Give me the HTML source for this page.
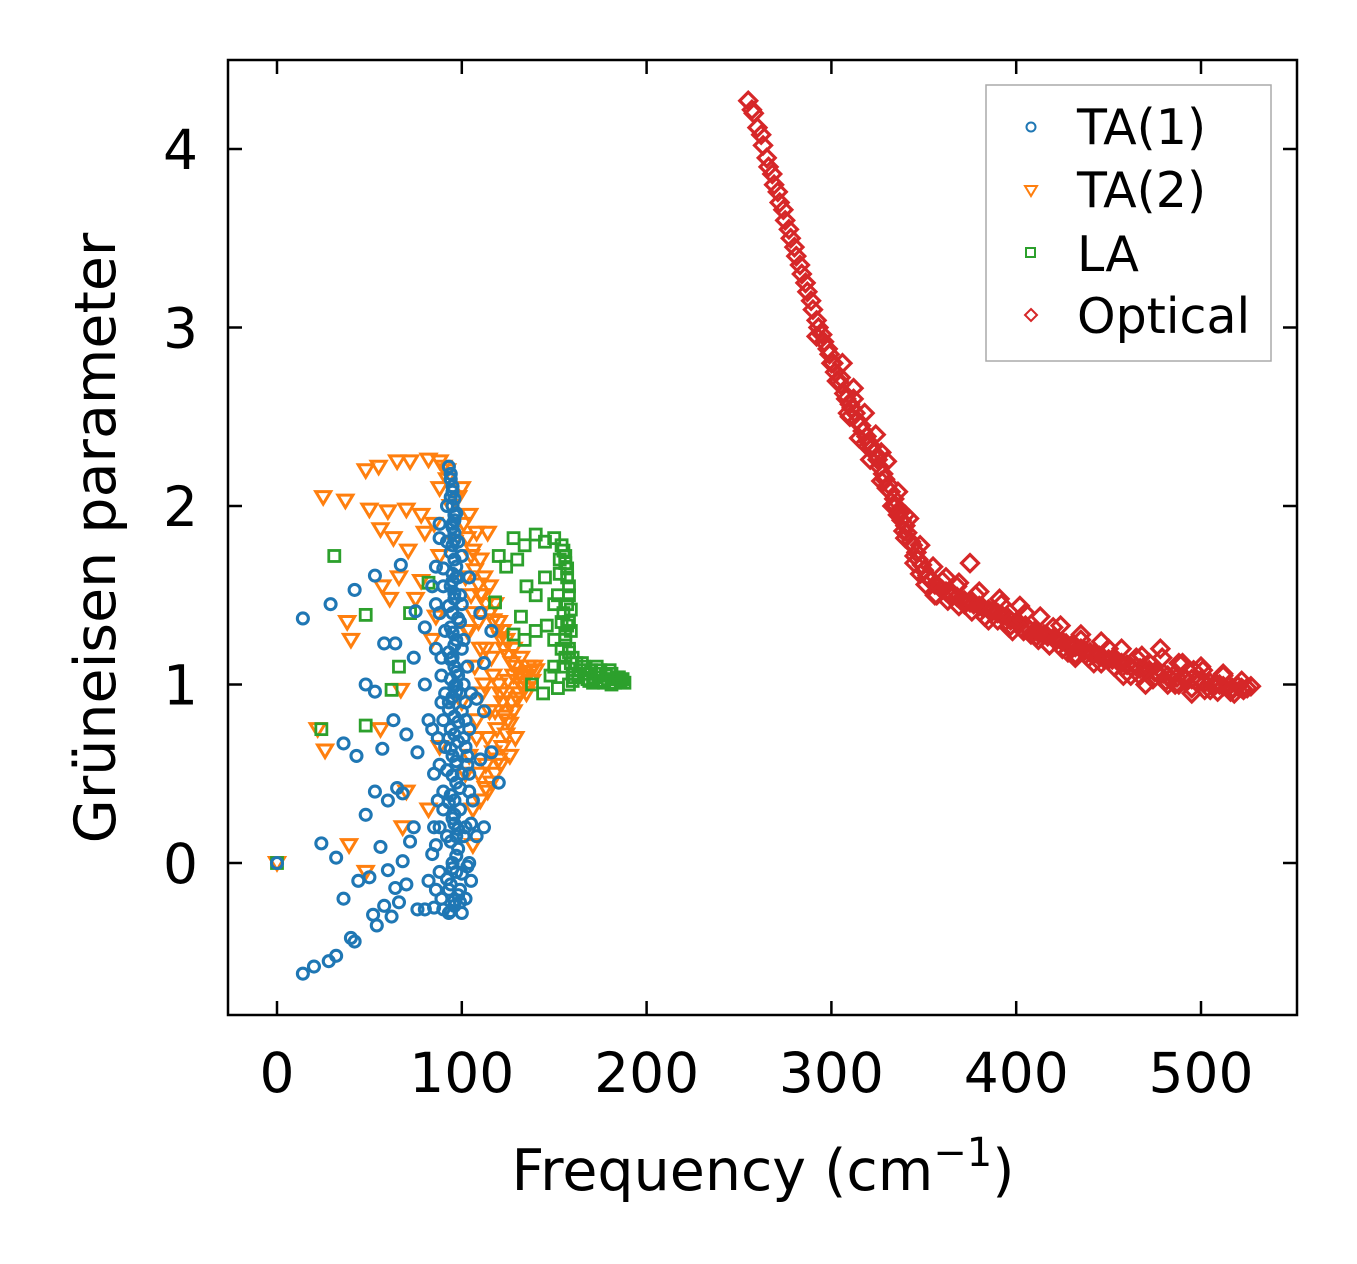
<!DOCTYPE html>
<html><head><meta charset="utf-8">
<style>
html,body{margin:0;padding:0;background:#fff;}
svg{display:block;font-family:"DejaVu Sans","Liberation Sans",sans-serif;}
</style></head>
<body>
<svg id="chart" width="1357" height="1264" viewBox="0 0 1357 1264" xmlns="http://www.w3.org/2000/svg">
<g id="marks"></g>
<rect x="228" y="60" width="1069" height="955" fill="none" stroke="#000" stroke-width="2.5"/>
<g id="ticks"></g>
<text x="763" y="1190" font-size="57" text-anchor="middle">Frequency (cm<tspan dy="-24" font-size="40">−1</tspan><tspan dy="24">)</tspan></text>
<text transform="translate(115,538) rotate(-90)" font-size="57" text-anchor="middle">Grüneisen parameter</text>
<g>
<rect x="986" y="85" width="285" height="276" fill="#fff" stroke="#aaa" stroke-width="1.5"/>
<circle cx="1031" cy="127" r="4.5" fill="none" stroke="#1f77b4" stroke-width="2"/>
<text x="1077" y="144" font-size="49">TA(1)</text>
<path d="M1025,186 L1037,186 L1031,196 Z" fill="none" stroke="#ff7f0e" stroke-width="2"/>
<text x="1077" y="207" font-size="49">TA(2)</text>
<rect x="1026" y="248" width="9" height="9" fill="none" stroke="#2ca02c" stroke-width="2"/>
<text x="1077" y="271" font-size="49">LA</text>
<path d="M1031,309 L1037,315 L1031,321 L1025,315 Z" fill="none" stroke="#d62728" stroke-width="2"/>
<text x="1077" y="333" font-size="49">Optical</text>
</g>
</svg>
<script>
const xTicks=[0,100,200,300,400,500];
const yTicks=[0,1,2,3,4];
const ta1X=[0,14,20,28,32,24,32,36,40,42,44,50,52,54,56,58,60,62,64,66,68,70,36,43,48,53,57,60,63,65,68,70,72,74,76,48,53,58,64,14,29,42,53,67,75,74,80,82,80,84,86,88,120,112,108,105,110,116,112,108,112,116,110,104,100,
93,94,95,95,96,96,95,96,95,94,96,95,94,97,93,96,94,97,93,96,94,98,95,92,97,94,99,96,92,98,95,100,94,98,96,100,90,85,80,76,88,86,90,88,90,89,91,90,92,92,
98,99,100,101,102,103,104,102,104,102,100,101,99,98,97,93,91,89,87,85,84,82,86,88,94,96,97,95,93,99,97,95,93,97,
94,95,96,97,95,96,94,97,95,96,93,98,95,96,94,97,96,95,93,98,96,94,97,95,99,93,96,98,94,97,95,92,99,96,94,98,95,97,93,96,
101,103,105,100,102,104,106,101,103,105,99,102,104,100,103,
88,90,86,89,91,87,85,90,88,86,89,84];
const ta1Y=[0,-0.62,-0.58,-0.55,-0.52,0.11,0.03,-0.2,-0.42,-0.44,-0.1,-0.08,-0.29,-0.35,0.09,-0.24,-0.04,-0.3,-0.14,-0.22,0.01,-0.12,0.67,0.6,0.27,0.4,0.64,0.35,0.8,0.42,0.39,0.72,0.12,0.2,0.62,1.0,0.96,1.23,1.23,1.37,1.45,1.53,1.61,1.67,1.41,1.15,1.0,0.8,1.32,1.55,1.66,1.82,0.45,0.2,0.15,0.22,0.58,0.62,0.85,0.92,1.12,1.3,1.4,1.6,1.72,
2.22,2.15,2.08,2.0,1.92,1.85,1.78,1.7,1.62,1.55,1.48,1.4,1.32,1.25,1.18,1.1,1.03,0.96,0.9,0.82,0.75,0.68,0.6,0.52,0.45,0.38,0.3,0.22,0.15,0.08,0.0,-0.06,-0.12,-0.18,-0.24,-0.28,-0.26,-0.25,-0.26,-0.26,-0.05,0.1,0.3,0.55,0.8,1.05,1.3,1.55,1.8,2.0,
1.8,1.5,1.2,1.0,0.8,0.6,0.4,0.2,0.0,-0.2,0.5,0.7,1.35,1.05,0.15,-0.28,0.65,0.9,0.35,0.2,0.75,-0.1,1.2,1.4,2.05,1.95,1.6,1.15,0.7,0.95,0.55,0.25,-0.15,-0.05,
2.18,2.11,2.04,1.96,1.88,1.81,1.74,1.66,1.58,1.51,1.44,1.37,1.29,1.22,1.14,1.07,0.99,0.93,0.86,0.79,0.72,0.64,0.57,0.49,0.42,0.34,0.27,0.19,0.12,0.04,-0.03,-0.09,-0.15,-0.21,-0.27,1.6,1.9,1.0,0.7,0.35,
1.25,1.1,0.95,0.85,0.65,0.5,0.35,0.15,-0.02,-0.1,-0.22,0.9,0.75,1.45,0.55,
1.9,1.65,1.45,1.15,0.95,0.7,0.5,0.4,0.2,-0.15,-0.2,0.05];
const ta2X=[0,25,37,48,55,65,72,82,88,92,50,60,70,78,85,56,63,71,80,88,57,61,66,75,40,38,26,22,56,67,70,68,39,48,82,88,84,78,86,
100,104,108,106,110,112,115,118,120,122,124,128,132,136,140,138,134,130,128,126,124,122,120,118,116,114,110,106,104,108,112,116,120,124,128,118,114,110,106,102,114,110,126,122,132,100,102,104,106,108,
101,103,105,107,109,111,113,115,117,119,121,123,125,127,129,131,133,135,137,139,103,107,111,115,119,123,127,131,135,105,109,113,117,121,125,129,113,117,121,125,109,113,
90,88,94,92,96,98];
const ta2Y=[0,2.05,2.03,2.2,2.22,2.25,2.25,2.26,2.25,2.2,1.98,1.97,1.98,1.95,1.9,1.87,1.82,1.75,1.85,1.72,1.55,1.48,1.6,1.48,1.25,1.35,0.63,0.75,0.75,0.97,0.4,0.2,0.1,-0.05,0.3,0.65,1.25,1.58,1.38,
2.1,1.95,1.85,1.75,1.7,1.6,1.55,1.45,1.35,1.3,1.25,1.2,1.15,1.1,1.08,1.02,0.98,0.92,0.85,0.78,0.72,0.65,0.58,0.5,0.45,0.4,0.35,0.3,0.6,0.8,1.0,1.15,1.0,0.95,1.05,0.85,0.7,1.2,1.4,1.6,1.85,1.5,0.6,0.9,1.0,0.9,0.5,1.3,0.1,0.7,
1.9,1.82,1.72,1.64,1.56,1.5,1.45,1.4,1.36,1.3,1.26,1.2,1.16,1.12,1.1,1.06,1.04,1.05,1.07,1.1,1.3,1.1,0.95,0.85,0.75,0.82,0.9,0.95,0.95,1.5,1.35,1.2,1.05,0.95,1.02,0.7,0.55,0.62,0.55,0.8,0.5,0.42,
2.22,2.1,2.0,2.15,1.8,2.05];
const laX=[0,24,31,48,48,62,66,72,82,118,120,124,128,130,134,140,145,150,135,140,145,150,132,128,134,140,146,150,138,144,148,152,
154,156,157,158,157,158,156,158,160,155,162,166,170,174,178,182,186,188,184,176,168,160,152,153,155,159,163,171,180,150,154,
155,156,157,158,159,157,156,158,159,160,161,164,167,169,172,175,177,179,181,183,185,187,153,154,156,158,165,173,181];
const laY=[0,0.75,1.72,1.39,0.77,0.97,1.1,1.4,1.57,1.46,1.72,1.66,1.82,1.7,1.78,1.84,1.8,1.82,1.55,1.5,1.6,1.45,1.38,1.28,1.25,1.3,1.33,1.25,1.0,0.95,1.05,0.98,
1.78,1.72,1.65,1.55,1.45,1.35,1.28,1.2,1.15,1.1,1.12,1.1,1.08,1.06,1.05,1.03,1.02,1.01,1.04,1.02,1.03,1.02,1.5,1.62,1.4,1.3,1.05,1.01,1.08,1.1,1.2,
1.75,1.68,1.6,1.5,1.42,1.33,1.25,1.18,1.12,1.06,1.04,1.08,1.06,1.02,1.04,1.08,1.01,1.03,1.06,1.01,1.04,1.03,1.7,1.35,1.15,1.0,1.12,1.1,1.0];
const optX=[255,258,260,263,266,269,272,275,278,281,284,287,290,293,296,299,302,305,308,311,314,317,320,323,326,329,332,335,338,341,344,347,350,354,358,362,366,370,375,380,385,390,395,400,405,410,415,420,425,430,435,440,445,450,455,460,465,470,475,480,485,490,495,500,505,510,515,520,525,527,
300,305,310,318,325,330,336,340,345,352,360,368,375,378,385,392,398,405,412,420,428,435,442,450,458,465,470,478,482,488,495,500,505,512,518,522,340,337,312,327,292,286,
348,356,364,372,383,396,408,418,432,446,462,472,486,496,508,
257,262,265,268,271,274,277,280,283,286,289,292,295,298,301,304,307,310,313,316,319,322,325,328,331,334,337,340,343,346,349,352,356,360,364,368,372,377,382,387,392,397,402,407,412,417,422,427,432,437,442,447,452,457,462,467,472,477,482,487,492,497,502,507,512,517,522,
303,309,315,321,327,333,339,345,351,357,363,369,376,383,390,397,404,411,418,425,432,439,446,453,460,467,474,481,488,495,502,509,516,523,
306,312,318,324,330,336,342,348,355,362,369,380,391,402,413,424,435,446,457,468,479,490,501,512];
const optY=[4.27,4.2,4.12,4.02,3.9,3.8,3.7,3.6,3.5,3.4,3.3,3.2,3.1,3.0,2.92,2.85,2.75,2.68,2.6,2.55,2.48,2.42,2.36,2.3,2.22,2.15,2.08,2.0,1.92,1.85,1.78,1.7,1.64,1.58,1.55,1.52,1.5,1.48,1.46,1.44,1.42,1.4,1.38,1.35,1.33,1.3,1.28,1.26,1.24,1.22,1.2,1.18,1.16,1.14,1.13,1.11,1.1,1.08,1.07,1.06,1.05,1.04,1.03,1.02,1.01,1.0,0.99,0.99,0.98,0.99,
2.8,2.72,2.5,2.35,2.28,2.1,1.95,1.82,1.72,1.6,1.58,1.55,1.68,1.5,1.36,1.45,1.3,1.4,1.25,1.32,1.18,1.25,1.12,1.2,1.05,1.15,1.0,1.2,1.0,1.12,0.95,1.1,0.97,1.05,0.95,1.02,1.95,1.98,2.6,2.3,2.95,3.25,
1.62,1.5,1.5,1.45,1.38,1.32,1.28,1.22,1.15,1.12,1.05,1.12,1.0,1.08,1.0,
4.22,4.08,3.95,3.86,3.76,3.66,3.55,3.45,3.35,3.25,3.15,3.04,2.96,2.88,2.8,2.7,2.63,2.57,2.52,2.45,2.39,2.33,2.26,2.18,2.12,2.04,1.96,1.89,1.8,1.74,1.67,1.61,1.56,1.53,1.51,1.49,1.47,1.45,1.43,1.41,1.39,1.36,1.34,1.31,1.29,1.27,1.25,1.23,1.21,1.19,1.17,1.15,1.14,1.12,1.1,1.09,1.08,1.06,1.05,1.04,1.03,1.02,1.01,1.0,0.99,0.98,0.98,
2.7,2.52,2.38,2.26,2.14,2.0,1.86,1.68,1.56,1.5,1.47,1.44,1.41,1.38,1.36,1.33,1.3,1.27,1.22,1.2,1.17,1.15,1.12,1.1,1.07,1.05,1.03,1.02,1.0,0.98,0.97,0.96,0.96,0.97,
2.8,2.66,2.52,2.4,2.25,2.08,1.93,1.78,1.66,1.6,1.57,1.52,1.48,1.44,1.38,1.33,1.28,1.24,1.2,1.16,1.15,1.12,1.08,1.06];

const X0=277,XS=1.848,Y0=863,YS=178.5;
function sx(v){return X0+v*XS;}
function sy(v){return Y0-v*YS;}
const NS="http://www.w3.org/2000/svg";
const marks=document.getElementById('marks');
const ticks=document.getElementById('ticks');

function tri(x,y){return 'M'+(x-7.5)+','+(y-5.5)+' L'+(x+7.5)+','+(y-5.5)+' L'+x+','+(y+7)+' Z';}
function dia(x,y){return 'M'+x+','+(y-8.5)+' L'+(x+8.5)+','+y+' L'+x+','+(y+8.5)+' L'+(x-8.5)+','+y+' Z';}

const g2=document.createElementNS(NS,'g');


marks.appendChild(g2);
for(let i=0;i<ta2X.length;i++){
  const p=document.createElementNS(NS,'path');
  p.setAttribute('d',tri(sx(ta2X[i]),sy(ta2Y[i])));
  p.setAttribute('fill','none');p.setAttribute('stroke','#ff7f0e');p.setAttribute('stroke-width','3');
  
  
  g2.appendChild(p);
}
const g3=document.createElementNS(NS,'g');


marks.appendChild(g3);
for(let i=0;i<laX.length;i++){
  const r=document.createElementNS(NS,'rect');
  r.setAttribute('x',sx(laX[i])-5.5);r.setAttribute('y',sy(laY[i])-5.5);
  r.setAttribute('width',11);r.setAttribute('height',11);
  r.setAttribute('fill','none');r.setAttribute('stroke','#2ca02c');r.setAttribute('stroke-width','2.8');
  
  
  g3.appendChild(r);
}
const g1=document.createElementNS(NS,'g');


marks.appendChild(g1);
for(let i=0;i<ta1X.length;i++){
  const c=document.createElementNS(NS,'circle');
  c.setAttribute('cx',sx(ta1X[i]));c.setAttribute('cy',sy(ta1Y[i]));c.setAttribute('r',5.5);
  c.setAttribute('fill','none');c.setAttribute('stroke','#1f77b4');c.setAttribute('stroke-width','3.1');
  
  
  g1.appendChild(c);
}
const g4=document.createElementNS(NS,'g');


marks.appendChild(g4);
for(let i=0;i<optX.length;i++){
  const p=document.createElementNS(NS,'path');
  p.setAttribute('d',dia(sx(optX[i]),sy(optY[i])));
  p.setAttribute('fill','none');p.setAttribute('stroke','#d62728');p.setAttribute('stroke-width','3.2');
  
  
  g4.appendChild(p);
}

function line(x1,y1,x2,y2){
  const l=document.createElementNS(NS,'line');
  l.setAttribute('x1',x1);l.setAttribute('y1',y1);l.setAttribute('x2',x2);l.setAttribute('y2',y2);
  l.setAttribute('stroke','#000');l.setAttribute('stroke-width','2.5');
  
  
  ticks.appendChild(l);
}
function label(x,y,t,anchor,name){
  const e=document.createElementNS(NS,'text');
  e.setAttribute('x',x);e.setAttribute('y',y);e.setAttribute('font-size','55');e.setAttribute('text-anchor',anchor);
  e.textContent=t;
  
  
  ticks.appendChild(e);
}
xTicks.forEach(v=>{
  const x=sx(v);
  line(x,1015,x,1001);line(x,60,x,74);
  label(x,1092,String(v),'middle','x-tick-label');
});
yTicks.forEach(v=>{
  const y=sy(v);
  line(228,y,242,y);line(1297,y,1283,y);
  label(198,y+20,String(v),'end','y-tick-label');
});
</script>
</body></html>
